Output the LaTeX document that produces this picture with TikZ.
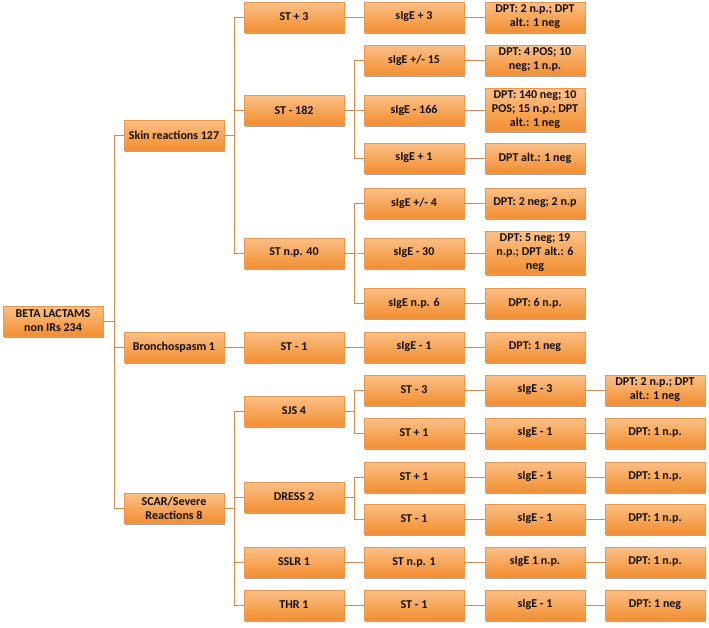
\documentclass[tikz,border=0pt]{standalone}
\usepackage{fontspec}
\setmainfont{Carlito}
\usepackage{tikz}
\usetikzlibrary{shadows}

\definecolor{boxtop}{RGB}{251,192,135}
\definecolor{boxbot}{RGB}{242,142,48}
\definecolor{boxedge}{RGB}{238,150,75}
\definecolor{linkcol}{RGB}{214,138,78}
\definecolor{txtcol}{RGB}{20,15,10}

\tikzset{
  box/.style={rectangle, minimum width=100pt, minimum height=30pt, inner xsep=2pt, inner ysep=2.5pt,
    align=center, top color=boxtop, bottom color=boxbot, draw=boxedge, line width=0.3pt,
    text=txtcol, font=\fontsize{12}{14}\selectfont\bfseries,
    drop shadow={shadow xshift=1pt, shadow yshift=-2pt, opacity=0.35, fill=black}},
  link/.style={draw=linkcol, line width=0.9pt}
}

\begin{document}
\begin{tikzpicture}[x=1pt, y=-1pt]
\useasboundingbox (0,0) rectangle (709,627);
% level 0
\node[box] (root) at (53,321) {BETA LACTAMS\\non IRs 234};
% level 1
\node[box] (skin) at (174,135) {Skin reactions 127};
\node[box] (bron) at (174,347) {Bronchospasm 1};
\node[box] (scar) at (174,508) {SCAR/Severe\\Reactions 8};
% level 2
\node[box] (st3) at (294,17) {ST + 3};
\node[box] (st182) at (294,110) {ST - 182};
\node[box] (stnp40) at (294,253) {ST n.p. 40};
\node[box] (bst1) at (294,347) {ST - 1};
\node[box] (sjs) at (294,411) {SJS 4};
\node[box] (dress) at (294,497) {DRESS 2};
\node[box] (sslr) at (294,562) {SSLR 1};
\node[box] (thr) at (294,605) {THR 1};
% level 3: sIgE after skin tests
\node[box] (ige3) at (414,17) {sIgE + 3};
\node[box] (ige15) at (414,60) {sIgE +/- 15};
\node[box] (ige166) at (414,110) {sIgE - 166};
\node[box] (ige1) at (414,158) {sIgE + 1};
\node[box] (ige4) at (414,203) {sIgE +/- 4};
\node[box] (ige30) at (414,253) {sIgE - 30};
\node[box] (igenp6) at (414,303) {sIgE n.p. 6};
\node[box] (bige1) at (414,347) {sIgE - 1};
% level 3: skin tests for SCAR
\node[box] (sjsa) at (414,390) {ST - 3};
\node[box] (sjsb) at (414,433) {ST + 1};
\node[box] (dra) at (414,477) {ST + 1};
\node[box] (drb) at (414,519) {ST - 1};
\node[box] (sslra) at (414,562) {ST n.p. 1};
\node[box] (thra) at (414,605) {ST - 1};
% level 4: DPT results
\node[box] (dpt3) at (535,17) {DPT: 2 n.p.; DPT\\alt.: 1 neg};
\node[box] (dpt15) at (535,60) {DPT: 4 POS; 10\\neg; 1 n.p.};
\node[box] (dpt166) at (535,110) {DPT: 140 neg; 10\\POS; 15 n.p.; DPT\\alt.: 1 neg};
\node[box] (dpt1) at (535,158) {DPT alt.: 1 neg};
\node[box] (dpt4) at (535,203) {DPT: 2 neg; 2 n.p};
\node[box] (dpt30) at (535,253) {DPT: 5 neg; 19\\n.p.; DPT alt.: 6\\neg};
\node[box] (dptnp6) at (535,303) {DPT: 6 n.p.};
\node[box] (bdpt1) at (535,347) {DPT: 1 neg};
% level 4: sIgE for SCAR
\node[box] (sjsai) at (535,390) {sIgE - 3};
\node[box] (sjsbi) at (535,433) {sIgE - 1};
\node[box] (drai) at (535,477) {sIgE - 1};
\node[box] (drbi) at (535,519) {sIgE - 1};
\node[box] (sslrai) at (535,562) {sIgE 1 n.p.};
\node[box] (thrai) at (535,605) {sIgE - 1};
% level 5: DPT for SCAR
\node[box] (sjsad) at (655,390) {DPT: 2 n.p.; DPT\\alt.: 1 neg};
\node[box] (sjsbd) at (655,433) {DPT: 1 n.p.};
\node[box] (draid) at (655,477) {DPT: 1 n.p.};
\node[box] (drbid) at (655,519) {DPT: 1 n.p.};
\node[box] (sslrd) at (655,562) {DPT: 1 n.p.};
\node[box] (thrd) at (655,605) {DPT: 1 neg};

% tree connectors (elbow through a bus line)
\foreach \c in {skin,bron,scar}
  \draw[link] (root.east) -- ++(11,0) |- (\c.west);
\foreach \c in {st3,st182,stnp40}
  \draw[link] (skin.east) -- ++(10,0) |- (\c.west);
\draw[link] (bron.east) -- (bst1.west);
\foreach \c in {sjs,dress,sslr,thr}
  \draw[link] (scar.east) -- ++(10,0) |- (\c.west);
\foreach \c in {ige15,ige166,ige1}
  \draw[link] (st182.east) -- ++(10,0) |- (\c.west);
\foreach \c in {ige4,ige30,igenp6}
  \draw[link] (stnp40.east) -- ++(10,0) |- (\c.west);
\foreach \c in {sjsa,sjsb}
  \draw[link] (sjs.east) -- ++(10,0) |- (\c.west);
\foreach \c in {dra,drb}
  \draw[link] (dress.east) -- ++(10,0) |- (\c.west);
% straight links
\foreach \a/\b in {st3/ige3,bst1/bige1,sslr/sslra,thr/thra,
                   ige3/dpt3,ige15/dpt15,ige166/dpt166,ige1/dpt1,ige4/dpt4,ige30/dpt30,igenp6/dptnp6,bige1/bdpt1,
                   sjsa/sjsai,sjsb/sjsbi,dra/drai,drb/drbi,sslra/sslrai,thra/thrai,
                   sjsai/sjsad,sjsbi/sjsbd,drai/draid,drbi/drbid,sslrai/sslrd,thrai/thrd}
  \draw[link] (\a.east) -- (\b.west);
\end{tikzpicture}
\end{document}
